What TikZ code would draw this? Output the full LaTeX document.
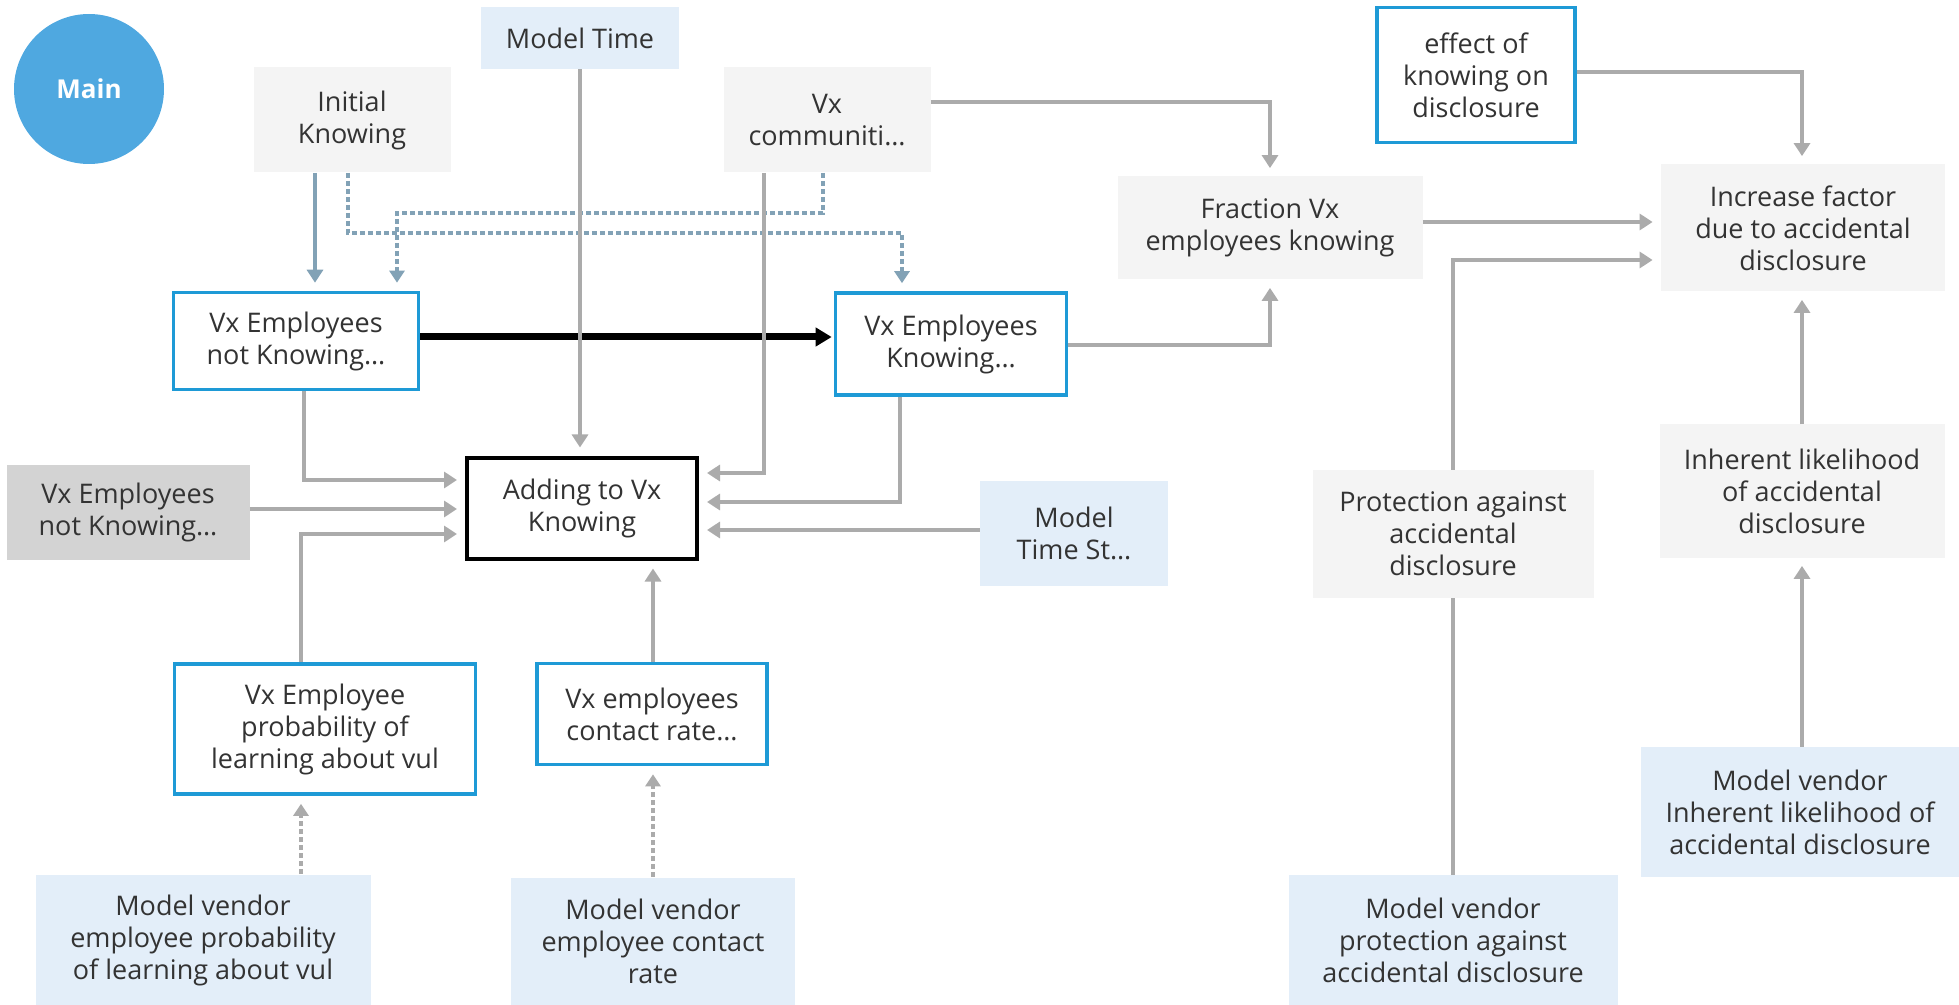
\documentclass[tikz,border=0pt]{standalone}
\usepackage{fontspec}
\setmainfont{Open Sans}
\usetikzlibrary{arrows.meta}

\definecolor{txt}{HTML}{333333}
\definecolor{auxgray}{HTML}{F4F4F4}
\definecolor{constblue}{HTML}{E3EEF9}
\definecolor{stockblue}{HTML}{1E9AD6}
\definecolor{ghostgray}{HTML}{D3D3D3}
\definecolor{maincirc}{HTML}{4FA8E0}
\definecolor{linkgray}{HTML}{ABABAB}
\definecolor{linkblue}{HTML}{82A2B6}

\newcommand{\lbl}{\fontsize{13.5pt}{16pt}\selectfont}

\begin{document}
\begin{tikzpicture}[x=0.5pt,y=-0.5pt,
  base/.style={rectangle, align=center, inner sep=0pt, font=\lbl, text=txt},
  aux/.style={base, fill=auxgray},
  const/.style={base, fill=constblue},
  stockbox/.style={base, fill=white, draw=stockblue, line width=1.8pt},
  flowbox/.style={base, fill=white, draw=black, line width=2pt},
  ghostbox/.style={base, fill=ghostgray},
  garrow/.style={draw=linkgray, line width=2.4pt, -{Triangle[length=6.5pt,width=8pt]}, shorten >=4pt},
  gline/.style={draw=linkgray, line width=2.4pt},
  gdash/.style={draw=linkgray, line width=2pt, dash pattern=on 2.5pt off 1.5pt, -{Triangle[length=6pt,width=7.5pt]}, shorten >=4pt},
  barrow/.style={draw=linkblue, line width=2.4pt, -{Triangle[length=6.5pt,width=8pt]}, shorten >=4pt},
  bdash/.style={draw=linkblue, line width=2pt, dash pattern=on 2.5pt off 1.5pt, -{Triangle[length=6pt,width=7.5pt]}, shorten >=4pt},
  flowarrow/.style={draw=black, line width=3.5pt, -{Triangle[length=8pt,width=9pt]}, shorten >=1pt}
]
\useasboundingbox (0,0) rectangle (1959,1005);

% module badge
\node[circle, fill=maincirc, minimum size=75pt, inner sep=0pt, text=white,
      font=\fontsize{13pt}{15pt}\selectfont\bfseries] (main) at (89,89) {Main};

% variables and constants
\node[const, minimum width=99pt, minimum height=31pt] (modeltime) at (580,38) {Model Time};
\node[aux, minimum width=98.5pt, minimum height=52.5pt] (initial) at (352,120) {Initial\\Knowing};
\node[aux, minimum width=103.5pt, minimum height=52.5pt] (communiti) at (827,120) {Vx\\communiti…};
\node[aux, minimum width=152.5pt, minimum height=51.5pt] (fraction) at (1270,228) {Fraction Vx\\employees knowing};
\node[stockbox, minimum width=99pt, minimum height=67.5pt] (effect) at (1476,75) {effect of\\knowing on\\disclosure};
\node[aux, minimum width=142pt, minimum height=63.5pt] (increase) at (1803,228) {Increase factor\\due to accidental\\disclosure};

% stocks and flow
\node[stockbox, minimum width=122.5pt, minimum height=48.5pt] (notknowing) at (296,341) {Vx Employees\\not Knowing…};
\node[stockbox, minimum width=115.5pt, minimum height=51pt] (knowing) at (951,344) {Vx Employees\\Knowing…};
\node[flowbox, minimum width=115pt, minimum height=50.5pt] (adding) at (582,508) {Adding to Vx\\Knowing};
\node[ghostbox, minimum width=121.5pt, minimum height=47.5pt] (ghost) at (128,512) {Vx Employees\\not Knowing…};
\node[const, minimum width=94pt, minimum height=52.5pt] (modeltimest) at (1074,533) {Model\\Time St…};

% rate inputs
\node[stockbox, minimum width=150.5pt, minimum height=65pt] (prob) at (325,729) {Vx Employee\\probability of\\learning about vul};
\node[stockbox, minimum width=115pt, minimum height=50.5pt] (contact) at (652,714) {Vx employees\\contact rate…};
\node[const, minimum width=167.5pt, minimum height=65.5pt] (mvprob) at (203,940) {Model vendor\\employee probability\\of learning about vul};
\node[const, minimum width=142pt, minimum height=63.5pt] (mvcontact) at (653,941) {Model vendor\\employee contact\\rate};

% disclosure side
\node[aux, minimum width=140.5pt, minimum height=64pt] (protection) at (1453,534) {Protection against\\accidental\\disclosure};
\node[aux, minimum width=142.5pt, minimum height=66.5pt] (inherent) at (1802,491) {Inherent likelihood\\of accidental\\disclosure};
\node[const, minimum width=159.5pt, minimum height=65pt] (mvinherent) at (1800,812) {Model vendor\\Inherent likelihood of\\accidental disclosure};
\node[const, minimum width=164.5pt, minimum height=65pt] (mvprotection) at (1453,940) {Model vendor\\protection against\\accidental disclosure};

% routing columns and rows
\coordinate (c301) at (301,0);
\coordinate (c304) at (304,0);
\coordinate (c315) at (315,0);
\coordinate (c348) at (348,0);
\coordinate (c397) at (397,0);
\coordinate (c580) at (580,0);
\coordinate (c653) at (653,0);
\coordinate (c764) at (764,0);
\coordinate (c823) at (823,0);
\coordinate (c900) at (900,0);
\coordinate (c902) at (902,0);
\coordinate (c1802) at (1802,0);
\coordinate (y72) at (0,72);
\coordinate (y102) at (0,102);
\coordinate (y213) at (0,213);
\coordinate (y222) at (0,222);
\coordinate (y233) at (0,233);
\coordinate (y260) at (0,260);
\coordinate (y337) at (0,337);
\coordinate (y345) at (0,345);
\coordinate (y473) at (0,473);
\coordinate (y480) at (0,480);
\coordinate (y502) at (0,502);
\coordinate (y509) at (0,509);
\coordinate (y530) at (0,530);
\coordinate (y534) at (0,534);

% initial values (dashed)
\draw[barrow] (initial.south -| c315) -- (notknowing.north -| c315);
\draw[bdash] (initial.south -| c348) |- (c902 |- y233) -- (knowing.north -| c902);
\draw[bdash] (communiti.south -| c823) |- (c397 |- y213) -- (notknowing.north -| c397);

% flow
\draw[flowarrow] (notknowing.east |- y337) -- (knowing.west |- y337);

% links into the flow
\draw[garrow] (modeltime.south -| c580) -- (adding.north -| c580);
\draw[garrow] (communiti.south -| c764) |- (adding.east |- y473);
\draw[garrow] (notknowing.south -| c304) |- (adding.west |- y480);
\draw[garrow] (ghost.east |- y509) -- (adding.west |- y509);
\draw[garrow] (prob.north -| c301) |- (adding.west |- y534);
\draw[garrow] (knowing.south -| c900) |- (adding.east |- y502);
\draw[garrow] (modeltimest.west |- y530) -- (adding.east |- y530);
\draw[garrow] (contact.north -| c653) -- (adding.south -| c653);
\draw[gdash] (mvprob.north -| c301) -- (prob.south -| c301);
\draw[gdash] (mvcontact.north -| c653) -- (contact.south -| c653);

% fraction and disclosure links
\draw[garrow] (communiti.east |- y102) -| (fraction.north);
\draw[garrow] (knowing.east |- y345) -| (fraction.south);
\draw[garrow] (effect.east |- y72) -| (increase.north -| c1802);
\draw[garrow] (fraction.east |- y222) -- (increase.west |- y222);
\draw[garrow] (protection.north) |- (increase.west |- y260);
\draw[gline] (mvprotection.north) -- (protection.south);
\draw[garrow] (inherent.north -| c1802) -- (increase.south -| c1802);
\draw[garrow] (mvinherent.north -| c1802) -- (inherent.south -| c1802);
\end{tikzpicture}
\end{document}
